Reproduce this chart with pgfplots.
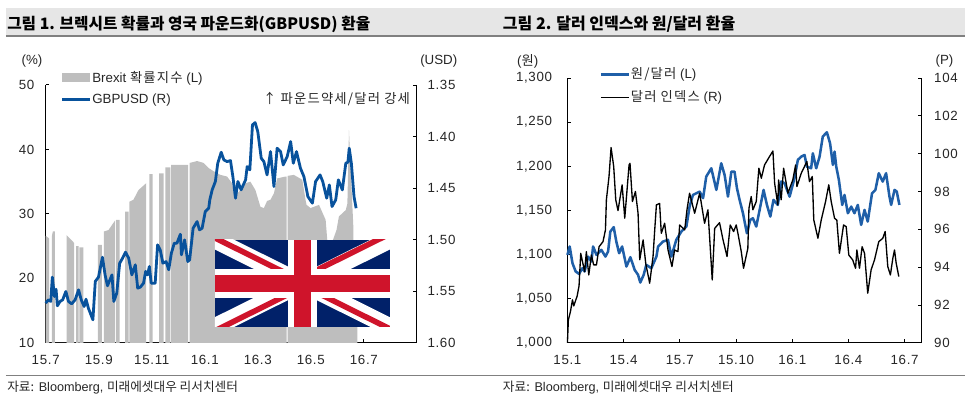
\documentclass[border=0pt]{standalone}
\usepackage{fontspec}
\usepackage{pgfplots}
\pgfplotsset{compat=1.18}
\setmainfont{Liberation Sans}
\newfontfamily\cjk{Noto Sans CJK KR}
\newfontfamily\cjkw[LetterSpace=9]{Noto Sans CJK KR}
\newfontfamily\tickfont[LetterSpace=5]{Liberation Sans}
\newcommand{\ko}[1]{{\cjk #1}}
\newcommand{\kow}[1]{{\cjkw #1}}
\definecolor{txt}{HTML}{262626}
\definecolor{barbg}{HTML}{E6E6E6}
\definecolor{rulegray}{HTML}{808080}
\definecolor{brexitgray}{HTML}{BEBEBE}
\definecolor{gbpblue}{HTML}{08529C}
\definecolor{wonblue}{HTML}{1F5FA8}
\definecolor{ukblue}{HTML}{012169}
\definecolor{ukred}{HTML}{CF142B}
% all chart furniture is placed in reference pixels
\newcommand{\lab}{\fontsize{10}{12}\selectfont}
\newcommand{\tlab}{\tickfont\fontsize{10}{12}\selectfont}
\pgfplotsset{
  common/.style={
    scale only axis,
    anchor=south west,
    clip=false,
    tick align=inside,
    major tick length=2.6pt,
    tick style={black,line width=0.7pt},
    axis line style={black,line width=0.9pt},
    ticklabel style={font=\tlab,text=txt},
    xticklabel style={yshift=-6pt},
    /pgf/number format/assume math mode=true,
    legend cell align=left,
    legend image code/.code={\draw[##1] (0pt,0pt) -- (21pt,0pt);},
  },
}
\begin{document}
\begin{tikzpicture}
\path (0pt,0pt) rectangle (724.5pt,-314.25pt);

% title band and rules
\fill[barbg] (6*0.75pt,-8*0.75pt) rectangle (966*0.75pt,-36*0.75pt);
\draw[rulegray,line width=0.8pt] (6*0.75pt,-36*0.75pt) -- (966*0.75pt,-36*0.75pt);
\draw[rulegray,line width=0.8pt] (6*0.75pt,-376*0.75pt) -- (966*0.75pt,-376*0.75pt);
\node[anchor=west,inner sep=0pt,text=black] at (7*0.75pt,-24.5*0.75pt) {\cjk\bfseries\fontsize{11.8}{13}\selectfont 그림 1. 브렉시트 확률과 영국 파운드화(GBPUSD) 환율};
\node[anchor=west,inner sep=0pt,text=black] at (503*0.75pt,-24.5*0.75pt) {\cjk\bfseries\fontsize{12}{13}\selectfont 그림 2. 달러 인덱스와 원/달러 환율};
\node[anchor=west,inner sep=0pt,text=txt] at (7*0.75pt,-388*0.75pt) {\fontsize{9.5}{11}\selectfont \ko{자료:} Bloomberg, \ko{미래에셋대우 리서치센터}};
\node[anchor=west,inner sep=0pt,text=txt] at (503*0.75pt,-388*0.75pt) {\fontsize{9.5}{11}\selectfont \ko{자료:} Bloomberg, \ko{미래에셋대우 리서치센터}};

% left chart, Brexit index on the left axis (months since 15.7)
\begin{axis}[common,
  at={(34.3pt,-257.25pt)},
  width=278.5pt,height=193.5pt,
  xmin=0,xmax=14,ymin=10,ymax=50,
  axis y line*=left,axis x line*=bottom,
  xtick={0,2,4,6,8,10,12},
  xticklabels={15.7,15.9,15.11,16.1,16.3,16.5,16.7},
  ytick={10,20,30,40,50},
  yticklabel style={xshift=-5pt},
]
\addplot[fill=brexitgray,draw=none] coordinates {
(0,10)(0,26.6)(0.13,26.2)(0.13,10)
(0.23,10)(0.23,26.5)(0.27,27.3)(0.35,27.3)(0.35,10)
(0.79,10)(0.79,26.7)(0.96,26.0)(1.07,25.5)(1.07,10)
(1.15,10)(1.15,25.0)(1.24,25.0)(1.24,10)
(1.27,10)(1.27,24.8)(1.42,24.8)(1.42,10)
(1.97,10)(1.97,25.2)(2.12,25.2)(2.12,10)
(2.19,10)(2.19,27.26)(2.37,27.5)(2.62,29.0)(2.62,10)
(2.66,10)(2.66,29.07)(2.79,29.07)(2.79,10)
(3.0,10)(3.0,30.36)(3.13,30.36)(3.13,10)
(3.16,10)(3.16,31.9)(3.31,32.2)(3.50,33.7)(3.79,34.76)(3.79,10)
(3.91,10)(3.91,36.15)(4.03,36.15)(4.03,10)
(4.28,10)(4.28,36.3)(4.45,36.3)(4.45,10)
(4.51,10)(4.51,37.2)(4.70,37.2)(4.70,10)
(4.73,10)(4.73,37.6)(5.37,37.6)(5.37,10)
(5.43,10)(5.43,37.9)(5.71,38.2)(5.96,37.9)(6.15,37.1)(6.34,36.6)(6.59,36.05)(6.84,35.8)(7.03,34.75)(7.12,32.7)(7.35,33.7)(7.54,34.75)(7.72,35.0)(7.91,33.7)(8.10,31.1)(8.23,30.9)(8.35,32.0)(8.48,32.2)(8.61,33.2)(8.73,35.5)(9.05,35.8)(9.09,35.8)(9.09,10)
(9.13,10)(9.13,35.9)(9.36,36.05)(9.68,35.3)(9.80,32.2)(9.84,31.4)(9.99,30.9)(10.31,31.4)(10.56,29.07)(10.62,26)(10.75,25.0)(10.97,27.5)(11.06,29.6)(11.32,30.6)(11.38,31.6)(11.44,43.0)(11.50,37.3)(11.57,31.1)(11.61,27.5)(11.61,18)(11.76,18)(11.76,10)
} \closedcycle;
\end{axis}

% left chart, GBPUSD on the reversed right axis
\begin{axis}[common,
  at={(34.3pt,-257.25pt)},
  width=278.5pt,height=193.5pt,
  xmin=0,xmax=14,ymin=1.35,ymax=1.60,
  y dir=reverse,
  axis y line*=right,axis x line=none,
  ytick={1.35,1.40,1.45,1.50,1.55,1.60},
  yticklabel style={xshift=4.5pt,/pgf/number format/fixed,/pgf/number format/precision=2,/pgf/number format/fixed zerofill},
  legend style={at={(0.033,1.058)},anchor=north west,draw=none,fill=none,font=\lab,text=txt,inner sep=0pt,outer sep=0pt,row sep=5pt,nodes={inner sep=1pt}},
]
\addlegendimage{brexitgray,line width=6.75pt}
\addlegendentry{\hspace*{-3pt}Brexit \kow{확률지수} (L)}
\addplot[gbpblue,line width=2.1pt,line join=round] coordinates {
(0,1.5615)(0.10,1.5583)(0.19,1.5599)(0.25,1.5363)(0.33,1.5551)(0.39,1.5480)(0.44,1.5641)(0.54,1.5599)(0.64,1.5583)(0.76,1.5502)(0.86,1.5599)(0.98,1.5622)(1.11,1.5583)(1.24,1.5486)(1.34,1.5583)(1.45,1.5648)(1.52,1.5577)(1.61,1.5664)(1.78,1.5777)(1.87,1.5405)(1.99,1.5363)(2.14,1.5170)(2.24,1.5341)(2.33,1.5447)(2.50,1.5341)(2.57,1.5599)(2.68,1.5518)(2.79,1.5228)(2.90,1.5179)(3.01,1.5121)(3.13,1.5179)(3.25,1.5341)(3.38,1.5244)(3.47,1.5470)(3.57,1.5460)(3.69,1.5422)(3.77,1.5308)(3.84,1.5341)(3.91,1.5260)(3.98,1.5422)(4.13,1.5422)(4.22,1.5050)(4.32,1.5099)(4.42,1.5228)(4.54,1.5212)(4.64,1.5292)(4.74,1.5131)(4.85,1.5034)(4.95,1.5034)(5.08,1.4947)(5.12,1.5147)(5.24,1.5002)(5.36,1.5212)(5.43,1.5195)(5.56,1.4889)(5.71,1.4824)(5.80,1.4905)(5.90,1.4889)(6.02,1.4727)(6.15,1.4695)(6.19,1.4614)(6.28,1.4517)(6.40,1.4436)(6.49,1.4259)(6.62,1.4152)(6.72,1.4226)(6.84,1.4243)(6.97,1.4233)(7.06,1.4388)(7.16,1.4598)(7.25,1.4436)(7.37,1.4517)(7.54,1.4420)(7.60,1.4291)(7.70,1.4323)(7.80,1.3887)(7.90,1.3865)(8.00,1.3952)(8.13,1.4210)(8.23,1.4243)(8.35,1.4372)(8.48,1.4146)(8.61,1.4485)(8.73,1.4113)(8.86,1.4146)(8.96,1.4275)(9.11,1.4194)(9.24,1.4049)(9.34,1.4259)(9.46,1.4146)(9.61,1.4307)(9.74,1.4388)(9.89,1.4582)(10.06,1.4646)(10.18,1.4436)(10.35,1.4372)(10.45,1.4436)(10.60,1.4598)(10.70,1.4469)(10.80,1.4679)(10.94,1.4614)(11.04,1.4420)(11.19,1.4517)(11.32,1.4259)(11.40,1.4249)(11.45,1.4113)(11.53,1.4259)(11.63,1.4582)(11.71,1.4695)
};
\addlegendentry{\hspace*{-3pt}GBPUSD (R)}
\end{axis}

% union jack over the left chart
\begin{scope}[x=0.75pt,y=-0.75pt]
\begin{scope}
\clip (215,240) rectangle (390,327);
\fill[ukblue] (215,240) rectangle (390,327);
\draw[white,line width=13pt] (215,240) -- (390,327);
\draw[white,line width=13pt] (215,327) -- (390,240);
\draw[ukred,line width=4.2pt] (215,238) -- (302.5,281.5);
\draw[ukred,line width=4.2pt] (302.5,285.5) -- (390,329);
\draw[ukred,line width=4.2pt] (215,331) -- (302.5,287.5);
\draw[ukred,line width=4.2pt] (302.5,277.5) -- (390,234);
\fill[white] (288,240) rectangle (317,327);
\fill[white] (215,269) rectangle (390,298);
\fill[ukred] (294,240) rectangle (311,327);
\fill[ukred] (215,275) rectangle (390,292);
\end{scope}
\end{scope}

% right chart, won/dollar on the left axis (months since 15.1)
\begin{axis}[common,
  at={(425.8pt,-257.25pt)},
  width=265.7pt,height=198.75pt,
  xmin=0,xmax=18.9,ymin=1000,ymax=1300,
  axis y line*=left,axis x line*=bottom,
  xtick={0,3,6,9,12,15,18},
  xticklabels={15.1,15.4,15.7,15.10,16.1,16.4,16.7},
  ytick={1000,1050,1100,1150,1200,1250,1300},
  yticklabel style={xshift=-8pt,/pgf/number format/.cd,1000 sep={,}},
]
\addplot[wonblue,line width=1.9pt,line join=round] coordinates {
(0,1099.6)(0.12,1109.1)(0.27,1090.2)(0.44,1080.8)(0.62,1078.1)(0.80,1084.5)(0.92,1080.8)(1.10,1097.7)(1.28,1092.1)(1.37,1109.1)(1.55,1099.6)(1.81,1105.3)(2.03,1097.7)(2.17,1103.4)(2.29,1126.0)(2.47,1131.0)(2.61,1114.7)(2.76,1101.5)(2.92,1109.1)(3.15,1086.4)(3.36,1097.0)(3.59,1082.6)(3.77,1077.0)(3.89,1068.3)(4.07,1077.0)(4.21,1088.3)(4.48,1084.5)(4.75,1097.7)(4.84,1109.1)(5.10,1114.7)(5.37,1116.6)(5.55,1097.7)(5.81,1116.6)(6.08,1126.0)(6.35,1131.7)(6.52,1154.3)(6.70,1167.5)(7.06,1171.3)(7.24,1163.8)(7.41,1188.3)(7.68,1197.7)(7.95,1173.2)(8.21,1203.4)(8.39,1190.2)(8.57,1165.6)(8.75,1193.9)(8.92,1193.9)(9.05,1175.1)(9.19,1161.9)(9.37,1146.8)(9.58,1124.1)(9.76,1139.2)(9.90,1141.1)(10.08,1131.7)(10.26,1150.6)(10.47,1173.2)(10.65,1156.2)(10.83,1143.0)(11.00,1161.9)(11.23,1156.2)(11.41,1182.6)(11.59,1180.7)(11.86,1165.6)(12.12,1186.4)(12.30,1207.2)(12.48,1210.9)(12.66,1212.8)(12.78,1199.6)(13.01,1197.7)(13.10,1214.7)(13.28,1197.7)(13.46,1210.9)(13.63,1233.6)(13.85,1238.5)(14.02,1226.0)(14.17,1201.5)(14.26,1216.6)(14.35,1199.6)(14.49,1184.5)(14.67,1156.2)(14.79,1167.5)(14.97,1146.8)(15.15,1154.3)(15.32,1146.8)(15.50,1156.2)(15.68,1133.6)(15.86,1150.6)(16.03,1137.3)(16.26,1169.4)(16.44,1173.2)(16.62,1192.1)(16.83,1182.6)(17.01,1192.1)(17.19,1165.6)(17.28,1156.2)(17.46,1173.2)(17.58,1171.3)(17.72,1156.2)
};
\end{axis}

% right chart, dollar index on the right axis
\begin{axis}[common,
  at={(425.8pt,-257.25pt)},
  width=265.7pt,height=198.75pt,
  xmin=0,xmax=18.9,ymin=90,ymax=104,
  axis y line*=right,axis x line=none,
  ytick={90,92,94,96,98,100,102,104},
  yticklabel style={xshift=6pt},
  legend style={at={(0.091,1.043)},anchor=north west,draw=none,fill=none,font=\lab,text=txt,inner sep=0pt,outer sep=0pt,row sep=5.5pt,nodes={inner sep=1pt}},
]
\addlegendimage{wonblue,line width=1.9pt}
\addlegendentry{\hspace*{-0.5pt}\kow{원/달러} (L)}
\addplot[black,line width=1pt,line join=round] coordinates {
(0,90.0)(0.05,91.21)(0.16,91.65)(0.27,92.27)(0.34,91.95)(0.52,92.48)(0.62,93.01)(0.71,94.73)(0.92,93.76)(1.01,94.82)(1.14,93.59)(1.28,94.64)(1.40,94.12)(1.55,94.12)(1.69,95.08)(1.90,95.35)(2.03,95.97)(2.08,97.56)(2.22,98.79)(2.33,100.32)(2.47,99.32)(2.58,97.56)(2.70,96.99)(2.92,98.35)(3.06,96.59)(3.29,99.40)(3.34,99.49)(3.47,97.47)(3.63,98.0)(3.77,96.85)(3.86,94.39)(4.04,95.44)(4.18,94.2)(4.39,93.15)(4.57,94.56)(4.66,95.97)(4.75,97.29)(4.92,97.37)(5.01,95.79)(5.19,96.32)(5.37,94.91)(5.58,94.03)(5.72,94.91)(5.90,94.82)(5.99,96.23)(6.26,95.97)(6.38,97.02)(6.52,97.91)(6.79,96.85)(7.06,97.91)(7.32,96.32)(7.50,97.03)(7.73,93.32)(7.86,96.05)(8.12,96.35)(8.30,95.47)(8.52,94.56)(8.69,96.23)(8.87,95.88)(9.01,96.23)(9.10,95.79)(9.28,94.82)(9.40,93.94)(9.63,94.99)(9.69,97.11)(9.81,97.73)(9.90,97.03)(10.08,97.47)(10.22,99.23)(10.35,98.70)(10.52,99.40)(10.79,99.85)(10.97,100.14)(11.06,98.44)(11.23,97.29)(11.27,98.61)(11.41,97.56)(11.54,99.23)(11.77,97.91)(12.03,98.61)(12.18,99.40)(12.25,98.26)(12.48,98.96)(12.78,99.58)(12.92,98.52)(13.07,98.79)(13.15,96.50)(13.37,95.53)(13.55,96.50)(13.78,97.47)(13.95,98.35)(14.08,97.47)(14.26,96.58)(14.38,96.49)(14.52,94.73)(14.74,96.23)(14.88,96.14)(15.02,94.64)(15.23,94.38)(15.38,93.94)(15.45,94.91)(15.59,93.94)(15.73,95.08)(15.86,94.73)(16.03,92.62)(16.21,93.85)(16.39,94.38)(16.62,95.35)(16.83,95.52)(16.96,95.88)(17.10,94.03)(17.24,93.59)(17.37,94.47)(17.46,94.91)(17.55,94.20)(17.69,93.5)
};
\addlegendentry{\hspace*{-0.5pt}\kow{달러 인덱스} (R)}
\end{axis}

% units and the note
\node[text=txt,font=\lab] at (32*0.75pt,-61*0.75pt) {(\%)};
\node[text=txt,font=\lab] at (439*0.75pt,-61*0.75pt) {(USD)};
\node[text=txt,font=\lab] at (528*0.75pt,-61*0.75pt) {(\ko{원})};
\node[text=txt,font=\lab] at (945*0.75pt,-61*0.75pt) {(P)};
\node[anchor=west,inner sep=0pt,text=txt,font=\lab] at (263*0.75pt,-99*0.75pt) {\kow{↑ 파운드약세/달러 강세}};
\end{tikzpicture}
\end{document}
